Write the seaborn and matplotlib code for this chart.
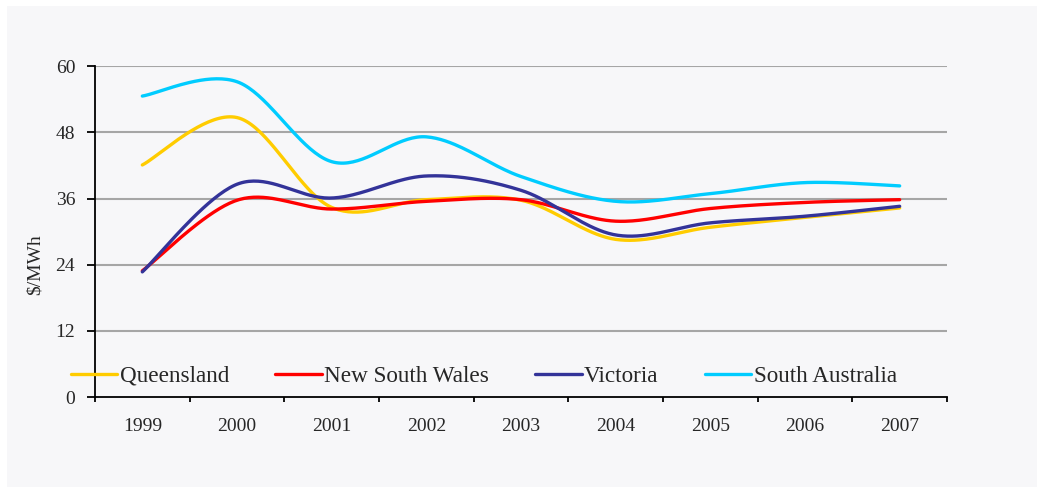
import numpy as np
import pandas as pd
import matplotlib
matplotlib.use("Agg")
import matplotlib.pyplot as plt
import seaborn as sns
from matplotlib.patches import Rectangle

years = ["1999", "2000", "2001", "2002", "2003", "2004", "2005", "2006", "2007"]
queensland = [42.1, 50.7, 34.4, 35.8, 35.7, 28.6, 30.8, 32.6, 34.3]
new_south_wales = [22.9, 35.7, 34.1, 35.5, 35.8, 31.9, 34.2, 35.3, 35.8]
victoria = [22.7, 38.6, 36.1, 40.1, 37.5, 29.4, 31.6, 32.8, 34.6]
south_australia = [54.6, 57.2, 42.7, 47.2, 40.0, 35.5, 36.9, 38.9, 38.3]
series_names = ["Queensland", "New South Wales", "Victoria", "South Australia"]
y_ticks = [0, 12, 24, 36, 48, 60]

colors = ["#FFCC00", "#FF0000", "#333399", "#00CCFF"]

sns.set_theme(style="white")
plt.rcParams["font.family"] = ["Liberation Serif", "DejaVu Serif"]

def smooth(vals, n=40):
    # Excel-style smoothed line (Catmull-Rom Bezier through the data points)
    p = np.asarray(vals, float)
    k = len(p)
    xs, ys = [], []
    for i in range(k - 1):
        p0 = p[i - 1] if i > 0 else p[i]
        p3 = p[i + 2] if i + 2 < k else p[i + 1]
        p1, p2 = p[i], p[i + 1]
        x0 = i - 1 if i > 0 else i
        x3 = i + 2 if i + 2 < k else i + 1
        c1y = p1 + (p2 - p0) / 6
        c2y = p2 - (p3 - p1) / 6
        c1x = i + ((i + 1) - x0) / 6
        c2x = (i + 1) - (x3 - i) / 6
        t = np.linspace(0, 1, n, endpoint=(i == k - 2))
        b0 = (1 - t) ** 3
        b1 = 3 * (1 - t) ** 2 * t
        b2 = 3 * (1 - t) * t ** 2
        b3 = t ** 3
        xs.append(b0 * i + b1 * c1x + b2 * c2x + b3 * (i + 1))
        ys.append(b0 * p1 + b1 * c1y + b2 * c2y + b3 * p2)
    return np.concatenate(xs), np.concatenate(ys)

W, H = 1037, 487
fig = plt.figure(figsize=(W / 100, H / 100), dpi=100, facecolor="white")
bg = Rectangle((7 / W, 0), 1 - 7 / W, 1 - 6 / H, transform=fig.transFigure,
               facecolor="#F7F7F9", edgecolor="none", zorder=-10)
fig.patches.append(bg)

ax = fig.add_axes([95 / W, 1 - 397 / H, (947 - 95) / W, (397 - 66.3) / H])
ax.set_facecolor("none")
ax.set_zorder(1)

data = [queensland, new_south_wales, victoria, south_australia]
frames = []
for name, vals in zip(series_names, data):
    sx, sy = smooth(vals)
    frames.append(pd.DataFrame({"x": sx, "value": sy, "region": name}))
df = pd.concat(frames, ignore_index=True)

sns.lineplot(data=df, x="x", y="value", hue="region", hue_order=series_names,
             palette=colors, linewidth=2.4, ax=ax, sort=False, estimator=None, legend=True)

FS = 14
ax.set_xlim(-0.5, len(years) - 0.5)
ax.set_ylim(0, 60)
ax.set_yticks(y_ticks)
ax.set_yticklabels([str(v) for v in y_ticks], fontsize=FS)
ax.set_xticks(np.arange(len(years)))
ax.set_xticklabels(years, fontsize=FS)
ax.tick_params(axis="x", length=0, pad=15)
ax.set_xticks(np.arange(len(years) + 1) - 0.5, minor=True)
ax.tick_params(axis="x", which="minor", length=3.8, width=1.3, color="black", direction="out", bottom=True)
ax.tick_params(axis="y", length=5.8, width=1.3, color="black", direction="out", pad=8.5, left=True)
for v in y_ticks[1:]:
    ax.axhline(v, color="#A6A6A6", linewidth=1.5, zorder=0)
for s in ["top", "right"]:
    ax.spines[s].set_visible(False)
for s in ["left", "bottom"]:
    ax.spines[s].set_color("black")
    ax.spines[s].set_linewidth(1.3)
ax.set_xlabel("")
ax.set_ylabel("")
fig.text(35 / W, 1 - 265 / H, "$/MWh", rotation=90, ha="center", va="center", fontsize=FS)

handles, labels = ax.get_legend_handles_labels()
ax.get_legend().remove()
leg = fig.legend(handles, labels, loc="center left", bbox_to_anchor=(71 / W, 1 - 376 / H), ncol=4,
                 frameon=False, fontsize=16.7, handlelength=2.0, handletextpad=0.1,
                 columnspacing=2.0, borderaxespad=0, borderpad=0)
leg.set_zorder(5)

fig.savefig("out.png", dpi=100, facecolor=fig.get_facecolor())
